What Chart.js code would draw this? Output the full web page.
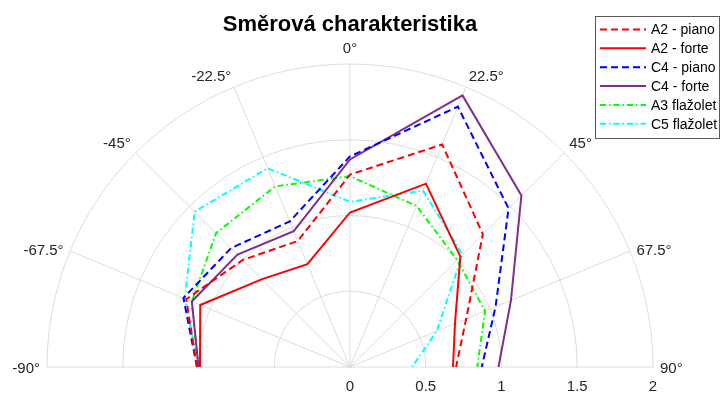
<!DOCTYPE html>
<html>
<head>
<meta charset="utf-8">
<script src="https://cdn.jsdelivr.net/npm/chart.js@4.4.1/dist/chart.umd.min.js"></script>
<style>
  html, body { margin: 0; padding: 0; background: #fff; overflow: hidden; }
  #wrap { width: 721px; height: 394px; overflow: hidden; }
</style>
</head>
<body>
<div id="wrap"><canvas id="polar" width="721" height="670"></canvas></div>
<script>
const FONT = "'Liberation Sans', Arial, Helvetica, sans-serif";

// Angles (degrees, 0 at top, clockwise) and radial range
const thetaTicks = [-90, -67.5, -45, -22.5, 0, 22.5, 45, 67.5, 90];
const rMin = 0;
const rMax = 2;
const rStep = 0.5;

// Series values read at each angle above
const seriesNames = ["A2 - piano", "A2 - forte", "C4 - piano", "C4 - forte", "A3 flažolet", "C5 flažolet"];
const a2Piano = [1.01, 1.17, 1.00, 0.90, 1.27, 1.59, 1.24, 0.83, 0.70];
const a2Forte = [0.99, 1.07, 0.82, 0.735, 1.02, 1.31, 1.03, 0.75, 0.68];
const c4Piano = [1.01, 1.19, 1.11, 1.04, 1.39, 1.86, 1.48, 1.04, 0.87];
const c4Forte = [1.00, 1.13, 1.05, 0.97, 1.37, 1.94, 1.60, 1.15, 0.98];
const a3Flazolet = [1.00, 1.13, 1.25, 1.29, 1.26, 1.15, 1.00, 0.965, 0.84];
const c5Flazolet = [1.00, 1.18, 1.45, 1.42, 1.09, 1.26, 1.05, 0.62, 0.41];

// The radar scale needs a full turn: 16 slots of 22.5°, the lower half left empty
const slotCount = 16;
const thetaLabels = thetaTicks.map((t) => `${t}°`);
const labels = [];
for (let i = 0; i < slotCount; i++) labels.push(i < thetaLabels.length ? thetaLabels[i] : "");

function fullTurn(values) {
  const out = values.slice();
  while (out.length < slotCount) out.push(null);
  return out;
}

function makeDataset(name, values, color, dash) {
  return {
    label: name,
    data: fullTurn(values),
    borderColor: color,
    backgroundColor: "transparent",
    borderWidth: 2,
    borderDash: dash,
    fill: false,
    pointRadius: 0,
    pointHoverRadius: 0,
    spanGaps: false
  };
}

const dashed = [7, 4];
const dashDot = [6, 3, 1.5, 3];

// Clip off the lower half disk, then draw angle / radius labels and the boxed legend
const polarExtras = {
  id: "polarExtras",
  beforeDraw(chart) {
    const r = chart.scales.r;
    const ctx = chart.ctx;
    ctx.save();
    ctx.beginPath();
    ctx.rect(0, 0, chart.width, r.yCenter + 1);
    ctx.rect(0, r.yCenter + 1, r.xCenter - r.drawingArea - 3, chart.height);
    ctx.rect(r.xCenter + r.drawingArea + 3, r.yCenter + 1, chart.width, chart.height);
    ctx.clip();
  },
  afterDatasetsDraw(chart) {
    chart.ctx.restore();
  },
  afterDraw(chart) {
    const r = chart.scales.r;
    const ctx = chart.ctx;
    ctx.save();

    // angle labels
    ctx.font = "15px " + FONT;
    ctx.fillStyle = "#262626";
    thetaTicks.forEach((t, i) => {
      const text = thetaLabels[i];
      if (t === 0) {
        const p = r.getPointPosition(i, r.drawingArea + 11);
        ctx.textAlign = "center";
        ctx.textBaseline = "alphabetic";
        ctx.fillText(text, p.x, p.y);
        return;
      }
      const p = r.getPointPosition(i, r.drawingArea + 7);
      ctx.textAlign = t < 0 ? "right" : "left";
      if (Math.abs(t) <= 45) {
        ctx.textBaseline = "alphabetic";
        ctx.fillText(text, p.x, p.y);
      } else {
        ctx.textBaseline = "middle";
        ctx.fillText(text, p.x, p.y + 2);
      }
    });

    // radius labels along the right half of the base line
    ctx.textAlign = "center";
    ctx.textBaseline = "alphabetic";
    r.ticks.forEach((tk) => {
      const x = r.xCenter + r.getDistanceFromCenterForValue(tk.value);
      ctx.fillText(tk.label, x, r.yCenter + 24);
    });

    // legend box
    const lx = 595.5, ly = 16.5, lw = 124, lh = 122;
    ctx.fillStyle = "#fff";
    ctx.fillRect(lx, ly, lw, lh);
    ctx.strokeStyle = "#5a5a5a";
    ctx.lineWidth = 1;
    ctx.strokeRect(lx, ly, lw, lh);
    ctx.font = "14px " + FONT;
    chart.data.datasets.forEach((ds, i) => {
      const y = 29.5 + i * 18.85;
      ctx.strokeStyle = ds.borderColor;
      ctx.lineWidth = ds.borderWidth;
      ctx.setLineDash(ds.borderDash || []);
      ctx.beginPath();
      ctx.moveTo(600, y);
      ctx.lineTo(646, y);
      ctx.stroke();
      ctx.setLineDash([]);
      ctx.fillStyle = "#000";
      ctx.textAlign = "left";
      ctx.textBaseline = "middle";
      ctx.fillText(ds.label, 651, y + 1);
    });

    ctx.restore();
  }
};

const ctx = document.getElementById("polar").getContext("2d");
new Chart(ctx, {
  type: "radar",
  data: {
    labels: labels,
    datasets: [
      makeDataset(seriesNames[0], a2Piano, "#ff0000", dashed),
      makeDataset(seriesNames[1], a2Forte, "#ff0000", []),
      makeDataset(seriesNames[2], c4Piano, "#0000ff", dashed),
      makeDataset(seriesNames[3], c4Forte, "#7e2f8e", []),
      makeDataset(seriesNames[4], a3Flazolet, "#00ff00", dashDot),
      makeDataset(seriesNames[5], c5Flazolet, "#00ffff", dashDot)
    ]
  },
  options: {
    responsive: false,
    animation: false,
    layout: { padding: { left: 0, right: 21, top: 0, bottom: 0 } },
    plugins: {
      legend: { display: false },
      tooltip: { enabled: false },
      title: {
        display: true,
        text: "Směrová charakteristika",
        color: "#000",
        font: { family: FONT, size: 22, weight: "bold" },
        padding: { top: 11.5, bottom: 26.1 }
      }
    },
    scales: {
      r: {
        min: rMin,
        max: rMax,
        startAngle: -90,
        ticks: { stepSize: rStep, display: false, callback: (v) => String(v) },
        pointLabels: { display: false },
        grid: { circular: true, color: "#dcdcdc", lineWidth: 1 },
        angleLines: { display: true, color: "#dcdcdc", lineWidth: 1 }
      }
    }
  },
  plugins: [polarExtras]
});
</script>
</body>
</html>
